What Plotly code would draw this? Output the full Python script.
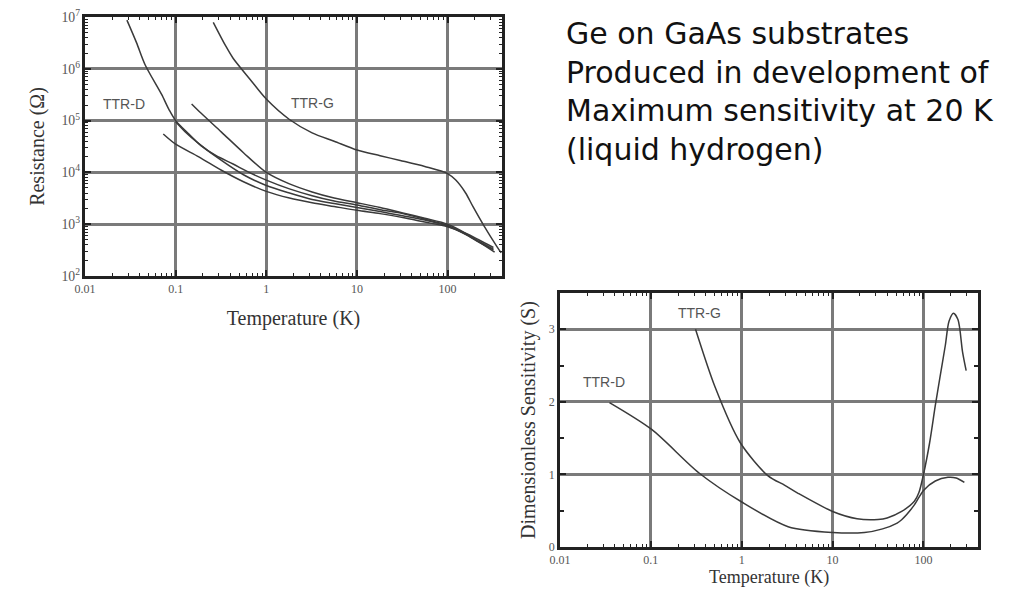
import plotly.graph_objects as go

# ---------------- data ----------------
# Chart 1: Resistance (ohm) vs Temperature (K)
ttrg_T = [0.26, 0.355, 0.43, 0.66, 1.0, 1.8, 3.2, 5.6, 10, 18, 30, 56, 100, 123, 158, 190, 250, 350, 390]
ttrg_R = [7.9e6, 2.8e6, 1.6e6, 6.3e5, 2.6e5, 1.05e5, 5.8e4, 4.0e4, 2.7e4, 2.1e4, 1.7e4, 1.3e4, 9.5e3, 7.1e3, 4.0e3, 2.2e3, 950, 370, 280]

ttrd_a_T = [0.029, 0.037, 0.046, 0.07, 0.085, 0.1, 0.14, 0.19, 0.28, 0.43, 0.63, 1.0, 1.8, 3.2, 5.6, 10, 18, 32, 56, 100, 160, 220, 320]
ttrd_a_R = [8.7e6, 3.2e6, 1.2e6, 3.2e5, 1.6e5, 1.0e5, 5.5e4, 3.3e4, 2.1e4, 1.45e4, 1.02e4, 7.1e3, 4.8e3, 3.55e3, 2.8e3, 2.35e3, 1.9e3, 1.6e3, 1.25e3, 950, 630, 450, 320]

ttrd_b_T = [0.15, 0.19, 0.32, 0.56, 1.0, 1.8, 3.2, 5.6, 10, 18, 32, 56, 100, 160, 220, 330]
ttrd_b_R = [2.1e5, 1.4e5, 6.0e4, 2.4e4, 1.0e4, 6.0e3, 4.2e3, 3.2e3, 2.6e3, 2.1e3, 1.65e3, 1.3e3, 1.0e3, 660, 460, 290]

ttrd_c_T = [0.073, 0.1, 0.18, 0.32, 0.56, 1.0, 1.8, 3.2, 5.6, 10, 18, 32, 56, 100, 160, 220, 320]
ttrd_c_R = [5.5e4, 3.5e4, 2.0e4, 1.1e4, 6.6e3, 4.3e3, 3.2e3, 2.6e3, 2.2e3, 1.85e3, 1.6e3, 1.35e3, 1.1e3, 890, 660, 500, 355]

ttrd_d_T = [0.1, 0.126, 0.18, 0.32, 0.56, 1.0, 1.8, 3.2, 5.6, 10, 18, 32, 56, 100, 160, 220, 320]
ttrd_d_R = [9.5e4, 6.2e4, 3.6e4, 1.7e4, 9.0e3, 5.6e3, 4.0e3, 3.0e3, 2.5e3, 2.1e3, 1.75e3, 1.45e3, 1.2e3, 910, 630, 470, 330]

# Chart 2: Dimensionless sensitivity vs Temperature (K)
sens_g_T = [0.31, 0.51, 0.96, 1.95, 2.98, 4.17, 10, 18.6, 31.6, 39.8, 57.5, 79.4, 89.1, 100, 117, 135, 151, 174, 191, 214, 240, 269, 295]
sens_g_S = [3.0, 2.2, 1.44, 0.98, 0.85, 0.74, 0.49, 0.39, 0.38, 0.40, 0.49, 0.63, 0.75, 1.0, 1.44, 1.95, 2.32, 2.78, 3.11, 3.22, 3.13, 2.69, 2.43]

sens_d_T = [0.035, 0.102, 0.339, 1.0, 3.24, 10, 22.4, 35.5, 51.3, 57.5, 79.4, 100, 135, 186, 229, 282]
sens_d_S = [1.99, 1.62, 1.02, 0.62, 0.28, 0.20, 0.20, 0.25, 0.33, 0.375, 0.58, 0.78, 0.91, 0.96, 0.95, 0.89]

x_range_log = [-2, 2.6]
r_range_log = [2, 7]
s_range = [0, 3.5]

slide_lines = ["Ge on GaAs substrates", "Produced in development of",
               "Maximum sensitivity at 20 K", "(liquid hydrogen)"]

# ---------------- styling ----------------
PAGE_W, PAGE_H = 1026, 596
OFF = 8  # default page margin of the html body
W, H = PAGE_W - 2 * OFF, PAGE_H - 2 * OFF
curve_color = "#3a3a3a"
grid_color = "#7a7a7a"
frame_color = "#222222"
serif = "Liberation Serif, Times New Roman, serif"
tick_font = dict(family=serif, size=12, color="#555555")
title_font = dict(family=serif, size=20, color="#333333")

fig = go.Figure()

def add_curve(x, y, xa, ya):
    fig.add_trace(go.Scatter(x=x, y=y, mode="lines", xaxis=xa, yaxis=ya,
                             line=dict(color=curve_color, width=1.5, shape="spline", smoothing=0.8),
                             showlegend=False, hoverinfo="x+y"))

add_curve(ttrg_T, ttrg_R, "x", "y")
add_curve(ttrd_a_T, ttrd_a_R, "x", "y")
add_curve(ttrd_b_T, ttrd_b_R, "x", "y")
add_curve(ttrd_c_T, ttrd_c_R, "x", "y")
add_curve(ttrd_d_T, ttrd_d_R, "x", "y")
add_curve(sens_g_T, sens_g_S, "x2", "y2")
add_curve(sens_d_T, sens_d_S, "x2", "y2")

def px_x(p):
    return (p - OFF) / W

def px_y(p):
    return 1 - (p - OFF) / H

common_axis = dict(showline=True, linecolor=frame_color, linewidth=2.5, mirror="ticks",
                   ticks="inside", ticklen=6, tickcolor=frame_color, tickwidth=1.5,
                   showgrid=True, gridcolor=grid_color, gridwidth=2.5,
                   zeroline=False, tickfont=tick_font, automargin=False,
                   ticklabeloverflow="allow")

log_minor = dict(ticks="inside", ticklen=3, tickcolor=frame_color, tickwidth=1, dtick="D1", showgrid=False)

fig.update_layout(
    width=W, height=H,
    margin=dict(l=0, r=0, t=0, b=0),
    paper_bgcolor="white", plot_bgcolor="white",
    xaxis=dict(common_axis, type="log", range=x_range_log, dtick=1,
               domain=[px_x(85), px_x(502)], anchor="y", minor=log_minor,
               title=dict(text="Temperature (K)", font=title_font, standoff=16)),
    yaxis=dict(common_axis, type="log", range=r_range_log, dtick=1, exponentformat="power",
               tickfont=dict(family=serif, size=11, color="#555555"),
               domain=[px_y(276), px_y(17)], anchor="x", minor=log_minor,
               title=dict(text="Resistance (Ω)", font=title_font, standoff=12)),
    xaxis2=dict(common_axis, type="log", range=x_range_log, dtick=1,
                domain=[px_x(560), px_x(978)], anchor="y2", minor=log_minor),
    yaxis2=dict(common_axis, range=s_range, dtick=1, tick0=0,
                domain=[px_y(547), px_y(293)], anchor="x2",
                minor=dict(ticks="inside", ticklen=4, tickcolor=frame_color, dtick=0.5, showgrid=False),
                title=dict(text="Dimensionless Sensitivity (S)", font=title_font, standoff=8)),
)

# x-axis title of the lower chart (placed as text so it sits clear of the tick labels)
fig.add_annotation(x=px_x(769), y=px_y(577), xref="paper", yref="paper",
                   xanchor="center", yanchor="middle", text="Temperature (K)",
                   showarrow=False, font=dict(family=serif, size=18, color="#333333"))

label_font = dict(family="Liberation Sans, Arial, sans-serif", size=14, color="#555555")
fig.add_annotation(x=-1.57, y=5.32, xref="x", yref="y", text="TTR-D", showarrow=False, font=label_font)
fig.add_annotation(x=0.51, y=5.34, xref="x", yref="y", text="TTR-G", showarrow=False, font=label_font)
fig.add_annotation(x=-0.46, y=3.22, xref="x2", yref="y2", text="TTR-G", showarrow=False, font=label_font)
fig.add_annotation(x=-1.52, y=2.28, xref="x2", yref="y2", text="TTR-D", showarrow=False, font=label_font)

line_y = [34, 72, 111, 150]
for txt, yy in zip(slide_lines, line_y):
    fig.add_annotation(x=px_x(564), y=px_y(yy), xref="paper", yref="paper",
                       xanchor="left", yanchor="middle", text=txt, showarrow=False,
                       font=dict(family="DejaVu Sans, Arial, sans-serif", size=30, color="#111111"))

fig.write_html("out.html")
